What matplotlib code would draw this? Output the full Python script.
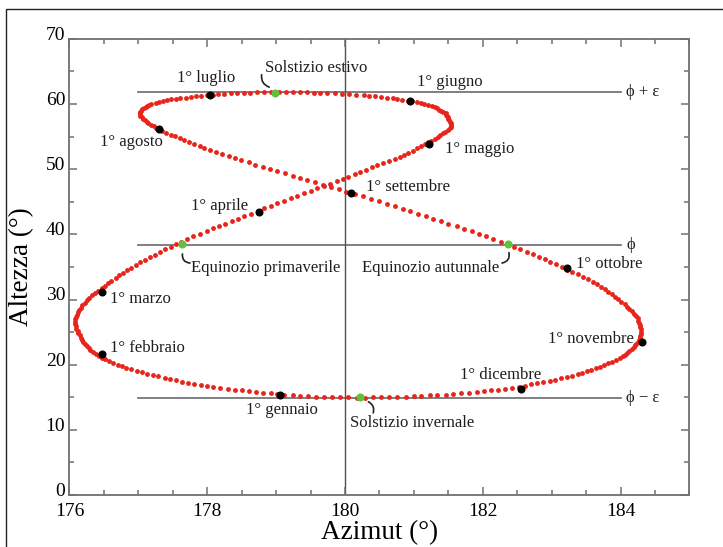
import numpy as np
import matplotlib.pyplot as plt
import matplotlib.transforms as mtransforms
from matplotlib.patches import Rectangle

plt.rcParams['font.family'] = ['Liberation Serif', 'DejaVu Serif']

# Analemma: daily position of the sun at noon (azimuth, altitude), one value per day
az_gen = [179.12, 179.02, 178.92, 178.81, 178.71, 178.61, 178.51, 178.40, 178.30, 178.19, 178.09,
          178.00, 177.91, 177.81, 177.72, 177.63, 177.55, 177.46, 177.38, 177.29, 177.21, 177.13,
          177.05, 176.98, 176.90, 176.82, 176.76, 176.70, 176.63, 176.57, 176.51]
alt_gen = [15.40, 15.50, 15.60, 15.70, 15.80, 15.90, 16.04, 16.18, 16.32, 16.46, 16.60, 16.76,
           16.92, 17.08, 17.24, 17.40, 17.60, 17.80, 18.00, 18.20, 18.40, 18.62, 18.84, 19.06,
           19.28, 19.50, 19.76, 20.02, 20.28, 20.54, 20.80]
az_feb = [176.47, 176.43, 176.38, 176.34, 176.30, 176.28, 176.25, 176.23, 176.20, 176.18, 176.16,
          176.15, 176.13, 176.12, 176.10, 176.09, 176.08, 176.08, 176.08, 176.09, 176.11, 176.13,
          176.14, 176.16, 176.18, 176.22, 176.26, 176.29]
alt_feb = [21.10, 21.40, 21.70, 22.00, 22.30, 22.60, 22.90, 23.20, 23.50, 23.80, 24.14, 24.48,
           24.82, 25.16, 25.50, 25.86, 26.22, 26.58, 26.94, 27.30, 27.66, 28.02, 28.38, 28.74,
           29.10, 29.48, 29.86, 30.24]
az_mar = [176.33, 176.37, 176.42, 176.47, 176.51, 176.56, 176.61, 176.67, 176.72, 176.78, 176.83,
          176.89, 176.96, 177.03, 177.10, 177.17, 177.24, 177.32, 177.39, 177.47, 177.54, 177.62,
          177.71, 177.80, 177.90, 177.99, 178.08, 178.17, 178.26, 178.36, 178.45]
alt_mar = [30.62, 31.00, 31.38, 31.76, 32.14, 32.52, 32.90, 33.30, 33.70, 34.10, 34.50, 34.90,
           35.30, 35.70, 36.10, 36.50, 36.90, 37.30, 37.70, 38.10, 38.50, 38.90, 39.30, 39.70,
           40.10, 40.50, 40.90, 41.28, 41.66, 42.04, 42.42]
az_apr = [178.54, 178.64, 178.73, 178.83, 178.92, 179.02, 179.12, 179.21, 179.31, 179.40, 179.50,
          179.59, 179.69, 179.78, 179.88, 179.97, 180.05, 180.14, 180.22, 180.31, 180.39, 180.47,
          180.55, 180.64, 180.72, 180.80, 180.86, 180.92, 180.99, 181.05]
alt_apr = [42.80, 43.20, 43.60, 44.00, 44.40, 44.80, 45.18, 45.56, 45.94, 46.32, 46.70, 47.06,
           47.42, 47.78, 48.14, 48.50, 48.86, 49.22, 49.58, 49.94, 50.30, 50.62, 50.94, 51.26,
           51.58, 51.90, 52.22, 52.54, 52.86, 53.18]
az_mag = [181.11, 181.16, 181.21, 181.25, 181.30, 181.35, 181.38, 181.42, 181.45, 181.49, 181.52,
          181.54, 181.54, 181.54, 181.53, 181.51, 181.50, 181.49, 181.48, 181.47, 181.46, 181.43,
          181.40, 181.37, 181.34, 181.31, 181.26, 181.21, 181.15, 181.10, 181.05]
alt_mag = [53.50, 53.80, 54.10, 54.40, 54.70, 55.00, 55.26, 55.52, 55.78, 56.04, 56.30, 56.54,
           56.78, 57.02, 57.26, 57.50, 57.72, 57.94, 58.16, 58.38, 58.60, 58.78, 58.96, 59.14,
           59.32, 59.50, 59.66, 59.82, 59.98, 60.14, 60.30]
az_giu = [180.98, 180.91, 180.83, 180.76, 180.69, 180.61, 180.52, 180.44, 180.35, 180.27, 180.16,
          180.06, 179.95, 179.85, 179.74, 179.64, 179.55, 179.45, 179.35, 179.25, 179.14, 179.04,
          178.93, 178.83, 178.72, 178.62, 178.53, 178.43, 178.34, 178.24]
alt_giu = [60.42, 60.54, 60.66, 60.78, 60.90, 61.00, 61.10, 61.20, 61.30, 61.40, 61.46, 61.52,
           61.58, 61.64, 61.70, 61.73, 61.76, 61.78, 61.81, 61.84, 61.84, 61.83, 61.82, 61.81,
           61.80, 61.76, 61.72, 61.68, 61.64, 61.60]
az_lug = [178.16, 178.08, 177.99, 177.91, 177.83, 177.76, 177.69, 177.61, 177.54, 177.47, 177.41,
          177.36, 177.30, 177.25, 177.19, 177.16, 177.13, 177.11, 177.08, 177.05, 177.04, 177.03,
          177.02, 177.02, 177.03, 177.05, 177.07, 177.10, 177.12, 177.14, 177.18]
alt_lug = [61.52, 61.44, 61.36, 61.28, 61.20, 61.10, 61.00, 60.90, 60.80, 60.70, 60.56, 60.42,
           60.28, 60.14, 60.00, 59.84, 59.68, 59.52, 59.36, 59.20, 59.00, 58.80, 58.60, 58.40,
           58.20, 57.98, 57.76, 57.54, 57.32, 57.10, 56.84]
az_ago = [177.22, 177.26, 177.30, 177.34, 177.40, 177.47, 177.53, 177.60, 177.66, 177.74, 177.81,
          177.89, 177.96, 178.04, 178.13, 178.22, 178.31, 178.40, 178.49, 178.60, 178.70, 178.81,
          178.91, 179.02, 179.13, 179.24, 179.34, 179.45, 179.56, 179.68, 179.79]
alt_ago = [56.58, 56.32, 56.06, 55.80, 55.54, 55.28, 55.02, 54.76, 54.50, 54.20, 53.90, 53.60,
           53.30, 53.00, 52.68, 52.36, 52.04, 51.72, 51.40, 51.06, 50.72, 50.38, 50.04, 49.70,
           49.36, 49.02, 48.68, 48.34, 48.00, 47.64, 47.28]
az_set = [179.91, 180.02, 180.14, 180.26, 180.38, 180.49, 180.61, 180.73, 180.84, 180.95, 181.06,
          181.17, 181.28, 181.39, 181.50, 181.62, 181.73, 181.84, 181.94, 182.05, 182.15, 182.26,
          182.36, 182.45, 182.54, 182.64, 182.73, 182.82, 182.90, 182.98]
alt_set = [46.92, 46.56, 46.20, 45.82, 45.44, 45.06, 44.68, 44.30, 43.92, 43.54, 43.16, 42.78,
           42.40, 42.02, 41.64, 41.26, 40.88, 40.50, 40.10, 39.70, 39.30, 38.90, 38.50, 38.12,
           37.74, 37.36, 36.98, 36.60, 36.20, 35.80]
az_ott = [183.07, 183.15, 183.23, 183.30, 183.38, 183.45, 183.53, 183.60, 183.66, 183.71, 183.77,
          183.82, 183.88, 183.92, 183.97, 184.01, 184.06, 184.10, 184.13, 184.16, 184.19, 184.22,
          184.25, 184.26, 184.27, 184.28, 184.29, 184.30, 184.30, 184.30, 184.29]
alt_ott = [35.40, 35.00, 34.60, 34.22, 33.84, 33.46, 33.08, 32.70, 32.32, 31.94, 31.56, 31.18,
           30.80, 30.42, 30.04, 29.66, 29.28, 28.90, 28.54, 28.18, 27.82, 27.46, 27.10, 26.76,
           26.42, 26.08, 25.74, 25.40, 25.08, 24.76, 24.44]
az_nov = [184.28, 184.27, 184.25, 184.23, 184.21, 184.19, 184.17, 184.13, 184.10, 184.06, 184.03,
          183.99, 183.93, 183.87, 183.82, 183.76, 183.70, 183.64, 183.57, 183.51, 183.44, 183.38,
          183.30, 183.22, 183.13, 183.05, 182.97, 182.88, 182.79, 182.70]
alt_nov = [24.12, 23.80, 23.52, 23.24, 22.96, 22.68, 22.40, 22.12, 21.84, 21.56, 21.28, 21.00,
           20.74, 20.48, 20.22, 19.96, 19.70, 19.46, 19.22, 18.98, 18.74, 18.50, 18.30, 18.10,
           17.90, 17.70, 17.50, 17.32, 17.14, 16.96]
az_dic = [182.61, 182.52, 182.42, 182.32, 182.22, 182.12, 182.02, 181.91, 181.80, 181.68, 181.57,
          181.46, 181.34, 181.23, 181.11, 181.00, 180.88, 180.76, 180.64, 180.53, 180.41, 180.29,
          180.17, 180.05, 179.93, 179.81, 179.69, 179.58, 179.47, 179.35, 179.24]
alt_dic = [16.78, 16.60, 16.46, 16.32, 16.18, 16.04, 15.90, 15.80, 15.70, 15.60, 15.50, 15.40,
           15.34, 15.28, 15.22, 15.16, 15.10, 15.07, 15.04, 15.02, 14.99, 14.96, 14.96, 14.97,
           14.99, 15.02, 15.05, 15.11, 15.17, 15.24, 15.30]

azimut = np.array(az_gen + az_feb + az_mar + az_apr + az_mag + az_giu +
                  az_lug + az_ago + az_set + az_ott + az_nov + az_dic)
altezza = np.array(alt_gen + alt_feb + alt_mar + alt_apr + alt_mag + alt_giu +
                   alt_lug + alt_ago + alt_set + alt_ott + alt_nov + alt_dic)

# first day of each month (black dots)
mesi = ['1° gennaio', '1° febbraio', '1° marzo', '1° aprile', '1° maggio', '1° giugno',
        '1° luglio', '1° agosto', '1° settembre', '1° ottobre', '1° novembre', '1° dicembre']
mesi_az = [179.05, 176.47, 176.47, 178.75, 181.22, 180.94, 178.04, 177.30, 180.09, 183.22, 184.31, 182.55]
mesi_alt = [15.40, 21.63, 31.09, 43.36, 53.80, 60.50, 61.35, 56.10, 46.28, 34.77, 23.50, 16.30]

# solstices and equinoxes (green dots)
eventi = ['Solstizio estivo', 'Equinozio primaverile', 'Equinozio autunnale', 'Solstizio invernale']
eventi_az = [178.99, 177.64, 182.37, 180.22]
eventi_alt = [61.75, 38.45, 38.45, 15.10]

# reference altitudes
phi = 38.4
eps = 23.44
rif_alt = [phi + eps, phi, phi - eps]
rif_lab = ['ϕ + ε', 'ϕ', 'ϕ − ε']

fig = plt.figure(figsize=(7.23, 5.47), dpi=100)
fig.patches.append(Rectangle((6 / 723, -0.2), 1.2, 1.2 - 9 / 547, transform=fig.transFigure,
                             fill=False, edgecolor='#222222', lw=1.0))
ax = fig.add_axes([0.0961, 0.0951, 0.8574, 0.8338])

# reference lines
for a, lab in zip(rif_alt, rif_lab):
    ax.plot([177.0, 184.0], [a, a], color='#6a6a6a', lw=1.2, zorder=1)
    ax.text(184.08, a, lab, fontsize=12, va='center', ha='left', color='#222222')
ax.axvline(180, color='#505050', lw=1.0, zorder=1)

ax.plot(azimut, altezza, 'o', color='#e8251c', ms=3.5, mew=0, zorder=2)
ax.plot(mesi_az, mesi_alt, 'o', color='black', ms=5.8, mew=0, zorder=4)
ax.plot(eventi_az, eventi_alt, 'o', color='#5cc43a', ms=5.8, mew=0, zorder=4)

# label placement for months and events
lab_pos = {
    '1° gennaio': (179.08, 13.1, 'center'),
    '1° febbraio': (176.59, 22.6, 'left'),
    '1° marzo': (176.59, 30.1, 'left'),
    '1° aprile': (178.60, 44.4, 'right'),
    '1° maggio': (181.45, 53.1, 'left'),
    '1° giugno': (181.05, 63.4, 'left'),
    '1° luglio': (177.98, 64.0, 'center'),
    '1° agosto': (176.90, 54.2, 'center'),
    '1° settembre': (180.31, 47.3, 'left'),
    '1° ottobre': (183.35, 35.4, 'left'),
    '1° novembre': (184.20, 23.9, 'right'),
    '1° dicembre': (182.26, 18.4, 'center'),
    'Solstizio estivo': (178.84, 65.5, 'left'),
    'Equinozio primaverile': (177.76, 34.9, 'left'),
    'Equinozio autunnale': (182.24, 34.9, 'right'),
    'Solstizio invernale': (180.07, 11.0, 'left'),
}
for lab, (x, y, ha) in lab_pos.items():
    ax.text(x, y, lab, fontsize=12, ha=ha, va='center', color='#1e1e1e')

# small hooks from event labels to the points
hooks = [((178.79, 64.5), (178.90, 62.6), 0.4),
         ((177.64, 37.0), (177.75, 35.6), 0.5),
         ((182.38, 37.2), (182.28, 35.6), -0.5),
         ((180.34, 14.3), (180.41, 12.6), -0.4)]
for (x0, y0), (x1, y1), rad in hooks:
    ax.annotate('', xy=(x1, y1), xytext=(x0, y0),
                arrowprops=dict(arrowstyle='-', color='#222222', lw=1.2,
                                connectionstyle=f'arc3,rad={rad}', shrinkA=0, shrinkB=0))

ax.set_xlim(176, 185)
ax.set_ylim(0, 70)
ax.set_xticks([176, 178, 180, 182, 184])
ax.set_xticks(np.arange(176, 185.01, 0.5), minor=True)
ax.set_yticks(np.arange(0, 71, 10))
ax.set_yticks(np.arange(0, 71, 5), minor=True)
ax.tick_params(which='both', direction='in', top=True, right=True, color='#707070',
               labelsize=14)
ax.tick_params(axis='x', pad=6)
ax.tick_params(axis='y', pad=3)
ax.tick_params(which='major', length=6, width=1.1)
ax.tick_params(which='minor', length=3.5, width=1.1)
for s in ax.spines.values():
    s.set_color('#707070')
    s.set_linewidth(1.3)

# y tick labels sit a little higher in the original
shift = mtransforms.ScaledTranslation(0, 4 / 72, fig.dpi_scale_trans)
for t in ax.get_yticklabels():
    t.set_transform(t.get_transform() + shift)

ax.set_xlabel('Azimut (°)', fontsize=19.5, labelpad=0)
ax.set_ylabel('Altezza (°)', fontsize=19.5, labelpad=8)

fig.savefig('out.png', dpi=100)
